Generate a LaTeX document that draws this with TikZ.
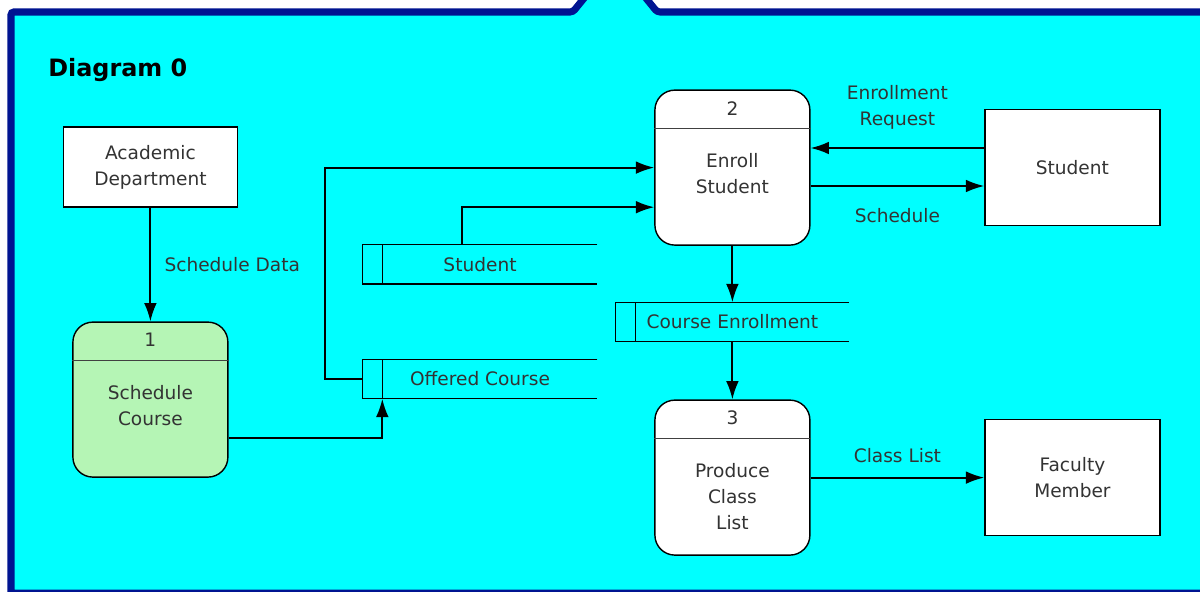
\documentclass[tikz,border=0pt]{standalone}
\usepackage{fontspec}
\setmainfont{DejaVu Sans}
\usepackage{tikz}
\usetikzlibrary{arrows.meta}

\definecolor{frameblue}{RGB}{0,20,145}
\definecolor{framefill}{RGB}{0,255,255}
\definecolor{procgreen}{RGB}{181,245,181}

\tikzset{
    >={Latex[length=13pt,width=9pt]},
    entity/.style={draw, line width=1pt, rectangle, fill=white, align=center, minimum width=4.375cm, minimum height=2.9cm},
    procbox/.style={draw, line width=1pt, rounded corners=0.5cm, fill=white, minimum width=3.875cm, minimum height=3.875cm},
    proctext/.style={anchor=north, inner sep=0, align=center},
    divider/.style={line width=1pt, black!75},
    store/.style={minimum width=5.85cm, minimum height=0.975cm, inner sep=0},
    flow/.style={line width=1.3pt},
    flowlabel/.style={inner sep=0, align=center}
}

\begin{document}
\begin{tikzpicture}[font=\fontsize{13.2}{18.4}\selectfont, text=black!80]
    \useasboundingbox (0,0) rectangle (30,-14.775);
    \fill[white] (0,0) rectangle (30,-14.775);
    \begin{scope}
        \clip (0,0) rectangle (30,-14.775);
        \draw[frameblue, line width=5pt, fill=framefill, rounded corners=2pt] (0.275,-16) -- (0.275,-0.3) -- (14.32,-0.3) -- (14.85,0.35) -- (15.9,0.35) -- (16.43,-0.3) -- (31,-0.3) -- (31,-14.83) -- (0.275,-14.83) -- cycle;
    \end{scope}

    \node[font=\fontsize{17}{20}\selectfont\bfseries, text=black, anchor=west, inner sep=0] at (1.2,-1.75) (title) {Diagram 0};

    % external entities
    \node[entity, minimum width=4.35cm, minimum height=2cm] at (3.76,-4.175) (acad) {Academic\\Department};
    \node[entity] at (26.81,-4.19) (entStudent) {Student};
    \node[entity] at (26.81,-11.94) (entFaculty) {Faculty\\Member};

    % processes
    \node[procbox, fill=procgreen] at (3.76,-9.99) (p1) {};
    \node[procbox] at (18.31,-4.19) (p2) {};
    \node[procbox] at (18.31,-11.94) (p3) {};
    \foreach \p in {p1, p2, p3}
        \draw[divider] ([yshift=-0.98cm]\p.north west) -- ([yshift=-0.98cm]\p.north east);
    \node at ([yshift=-0.47cm]p1.north) (p1num) {1};
    \node at ([yshift=-0.47cm]p2.north) (p2num) {2};
    \node at ([yshift=-0.47cm]p3.north) (p3num) {3};
    \node[proctext] at ([yshift=-1.6cm]p1.north) (p1txt) {Schedule\\Course};
    \node[proctext] at ([yshift=-1.6cm]p2.north) (p2txt) {Enroll\\Student};
    \node[proctext] at ([yshift=-1.6cm]p3.north) (p3txt) {Produce\\Class\\List};

    % data stores
    \node[store] at (12,-6.61) (stStudent) {Student};
    \node[store] at (12,-9.475) (stOffered) {Offered Course};
    \node[store, minimum width=5.825cm] at (18.31,-8.05) (stEnroll) {Course Enrollment};
    \foreach \s in {stStudent, stOffered, stEnroll}
        \draw[line width=1pt] (\s.north east) -- (\s.north west) -- (\s.south west) -- (\s.south east)
            ([xshift=0.49cm]\s.north west) -- ([xshift=0.49cm]\s.south west);

    % flows
    \draw[flow, ->] (acad) -- (p1) node[midway, right=0.33cm, flowlabel] {Schedule Data};
    \draw[flow, ->] ([yshift=-0.96cm]p1.east) -| ([xshift=0.49cm]stOffered.south west);
    \draw[flow, ->] (stOffered.west) -- ++(-0.95,0) |- (p2.west);
    \draw[flow, ->] ([xshift=-0.45cm]stStudent.north) |- ([yshift=-0.99cm]p2.west);
    \draw[flow, <-] ([yshift=0.49cm]p2.east) -- ([yshift=0.49cm]entStudent.west) node[midway, yshift=1.02cm, flowlabel] {Enrollment\\Request};
    \draw[flow, ->] ([yshift=-0.46cm]p2.east) -- ([yshift=-0.46cm]entStudent.west) node[midway, yshift=-0.75cm, flowlabel] {Schedule};
    \draw[flow, ->] (p2.south) -- (stEnroll.north);
    \draw[flow, ->] (stEnroll.south) -- (p3.north);
    \draw[flow, ->] (p3) -- (entFaculty) node[midway, yshift=0.55cm, flowlabel] {Class List};
\end{tikzpicture}
\end{document}
